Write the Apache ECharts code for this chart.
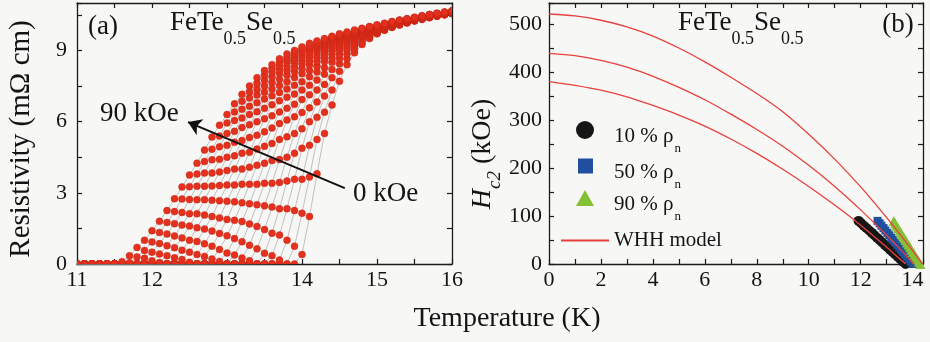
<!DOCTYPE html>
<html>
<head>
<meta charset="utf-8">
<script src="https://cdn.jsdelivr.net/npm/echarts@6.0.0/dist/echarts.min.js"></script>
<style>
  html, body { margin: 0; padding: 0; background: #f7f7f5; }
  #chart { width: 930px; height: 342px; }
</style>
</head>
<body>
<div id="chart"></div>
<script>
// ---- (a) resistivity of FeTe0.5Se0.5 in fields 0 ... 90 kOe ----
const TEMPS_K = [11.0,11.1,11.2,11.3,11.4,11.5,11.6,11.7,11.8,11.9,
                 12.0,12.1,12.2,12.3,12.4,12.5,12.6,12.7,12.8,12.9,
                 13.0,13.1,13.2,13.3,13.4,13.5,13.6,13.7,13.8,13.9,
                 14.0,14.1,14.2,14.3,14.4,14.5,14.6,14.7,14.8,14.9,
                 15.0,15.1,15.2,15.3,15.4,15.5,15.6,15.7,15.8,15.9,16.0];

const FIELDS_KOE = [0, 5, 10, 15, 20, 25, 30, 35, 40, 45, 50, 55, 60, 65, 70, 75, 80, 85, 90];

// resistivity in mOhm cm at each temperature in TEMPS_K
const RHO_0KOE = [0,0,0,0,0,0,0,0,0,0, 0,0,0,0,0,0,0,0,0,0, 0,0,0,0,0,0,0,0,0,0,
  0.4,2.0,3.8,5.5,6.7,7.7,8.4,8.9,9.25,9.5,9.7,9.85,9.97,10.07,10.16,10.24,10.31,10.38,10.44,10.5,10.55];
const RHO_5KOE = [0,0,0,0,0,0,0,0,0,0, 0,0,0,0,0,0,0,0,0,0, 0,0,0,0,0,0,0,0,0,
  0.75,2.14,3.67,5.25,6.4,7.33,8.12,8.65,9.05,9.32,9.54,9.72,9.87,9.98,10.08,10.17,10.25,10.32,10.39,10.45,10.51,10.56];
const RHO_10KOE = [0,0,0,0,0,0,0,0,0,0, 0,0,0,0,0,0,0,0,0,0, 0,0,0,0,0,0,0,
  0.17,1.0,2.25,3.57,5.0,6.18,7.08,7.85,8.44,8.85,9.16,9.42,9.6,9.74,9.88,10.0,10.09,10.18,10.26,10.33,10.4,10.45,10.51,10.56];
const RHO_15KOE = [0,0,0,0,0,0,0,0,0,0, 0,0,0,0,0,0,0,0,0,0, 0,0,0,0,0,0,
  0.35,1.22,2.33,3.57,4.88,6.0,6.83,7.57,8.2,8.65,9.02,9.26,9.5,9.64,9.76,9.9,10.01,10.11,10.19,10.27,10.34,10.4,10.46,10.52,10.57];
const RHO_20KOE = [0,0,0,0,0,0,0,0,0,0, 0,0,0,0,0,0,0,0,0,0, 0,0,0,0,0,
  0.45,1.3,2.33,3.5,4.67,5.7,6.58,7.33,8.0,8.5,8.83,9.11,9.34,9.54,9.67,9.78,9.92,10.03,10.12,10.2,10.28,10.34,10.41,10.47,10.53,10.58];
const RHO_25KOE = [0,0,0,0,0,0,0,0,0,0, 0,0,0,0,0,0,0,0,0,0, 0,0,0,
  0.14,0.64,1.45,2.4,3.44,4.5,5.5,6.38,7.13,7.75,8.27,8.67,9.0,9.22,9.43,9.59,9.71,9.81,9.93,10.04,10.13,10.21,10.28,10.35,10.42,10.48,10.53,10.58];
const RHO_30KOE = [0,0,0,0,0,0,0,0,0,0, 0,0,0,0,0,0,0,0,0,0, 0,0,
  0.25,0.79,1.58,2.45,3.4,4.4,5.36,6.21,6.93,7.53,8.09,8.53,8.84,9.1,9.3,9.5,9.62,9.74,9.83,9.95,10.05,10.14,10.22,10.29,10.36,10.43,10.48,10.54,10.59];
const RHO_35KOE = [0,0,0,0,0,0,0,0,0,0, 0,0,0,0,0,0,0,0,0,0, 0,
  0.38,0.94,1.69,2.5,3.4,4.36,5.25,6.07,6.73,7.33,7.89,8.33,8.68,8.97,9.17,9.37,9.53,9.65,9.77,9.85,9.97,10.07,10.15,10.23,10.3,10.37,10.43,10.49,10.55,10.6];
const RHO_40KOE = [0,0,0,0,0,0,0,0,0,0, 0,0,0,0,0,0,0,0,0,
  0.11,0.46,1.07,1.79,2.54,3.36,4.25,5.08,5.92,6.56,7.16,7.68,8.15,8.53,8.82,9.07,9.26,9.44,9.58,9.69,9.8,9.87,9.98,10.08,10.16,10.24,10.31,10.38,10.44,10.5,10.55,10.6];
const RHO_45KOE = [0,0,0,0,0,0,0,0,0,0, 0,0,0,0,0,0,0,0,
  0.21,0.61,1.19,1.84,2.58,3.36,4.16,4.96,5.73,6.41,7.03,7.53,8.02,8.39,8.69,8.96,9.15,9.32,9.5,9.61,9.72,9.83,9.89,10.0,10.1,10.18,10.25,10.32,10.39,10.45,10.51,10.56,10.61];
const RHO_50KOE = [0,0,0,0,0,0,0,0,0,0, 0,0,0,0,0,0,0,
  0.32,0.75,1.29,1.88,2.62,3.36,4.08,4.85,5.57,6.25,6.88,7.38,7.86,8.23,8.55,8.82,9.05,9.22,9.38,9.53,9.64,9.74,9.85,9.91,10.02,10.11,10.19,10.26,10.33,10.39,10.46,10.51,10.57,10.62];
const RHO_55KOE = [0,0,0,0,0,0,0,0,0,0, 0,0,0,0,0,
  0.07,0.4,0.85,1.39,1.94,2.64,3.33,4.0,4.71,5.43,6.12,6.71,7.23,7.68,8.1,8.43,8.7,8.95,9.13,9.29,9.45,9.57,9.67,9.77,9.88,9.93,10.03,10.12,10.2,10.27,10.34,10.4,10.47,10.52,10.57,10.62];
const RHO_60KOE = [0,0,0,0,0,0,0,0,0,0, 0,0,0,0,
  0.19,0.5,0.95,1.47,2.0,2.67,3.33,4.0,4.67,5.33,6.0,6.56,7.09,7.52,7.96,8.28,8.57,8.81,9.03,9.19,9.34,9.5,9.6,9.7,9.8,9.9,9.95,10.05,10.14,10.21,10.28,10.35,10.41,10.47,10.53,10.58,10.63];
const RHO_65KOE = [0,0,0,0,0,0,0,0,0,0, 0,0,0,
  0.26,0.58,1.0,1.53,2.06,2.69,3.31,3.94,4.56,5.2,5.87,6.42,6.95,7.38,7.79,8.16,8.47,8.7,8.93,9.1,9.25,9.4,9.53,9.63,9.73,9.82,9.92,9.97,10.07,10.15,10.22,10.29,10.36,10.42,10.48,10.53,10.59,10.64];
const RHO_70KOE = [0,0,0,0,0,0,0,0,0,0, 0,
  0.06,0.35,0.69,1.1,1.6,2.12,2.71,3.29,3.88,4.5,5.13,5.75,6.3,6.8,7.24,7.64,8.03,8.32,8.59,8.82,9.03,9.17,9.31,9.46,9.56,9.66,9.75,9.84,9.94,9.99,10.08,10.16,10.23,10.3,10.36,10.43,10.49,10.54,10.59,10.64];
const RHO_75KOE = [0,0,0,0,0,0,0,0,0,0,
  0.14,0.42,0.77,1.18,1.64,2.12,2.71,3.28,3.83,4.41,5.0,5.59,6.15,6.65,7.12,7.5,7.88,8.21,8.5,8.71,8.92,9.08,9.22,9.36,9.5,9.59,9.68,9.77,9.86,9.95,10.02,10.1,10.18,10.25,10.31,10.37,10.44,10.5,10.55,10.6,10.65];
const RHO_80KOE = [0,0,0,0,0,0,0,0,0,
  0.24,0.5,0.86,1.26,1.7,2.17,2.72,3.28,3.83,4.39,4.94,5.5,6.05,6.52,7.0,7.37,7.74,8.08,8.36,8.6,8.81,9.01,9.14,9.28,9.41,9.53,9.62,9.71,9.79,9.88,9.97,10.04,10.12,10.19,10.26,10.32,10.38,10.44,10.5,10.56,10.61,10.66];
const RHO_85KOE = [0,0,0,0,0,0,0,
  0.05,0.3,0.57,0.93,1.33,1.75,2.21,2.74,3.26,3.79,4.32,4.84,5.39,5.94,6.41,6.86,7.25,7.61,7.96,8.24,8.5,8.7,8.9,9.07,9.2,9.33,9.46,9.56,9.65,9.73,9.82,9.9,9.99,10.06,10.13,10.21,10.27,10.33,10.39,10.45,10.51,10.56,10.61,10.66];
const RHO_90KOE = [0,0,0,0,0,0,
  0.1,0.35,0.7,1.0,1.4,1.8,2.25,2.75,3.25,3.75,4.25,4.8,5.35,5.85,6.3,6.75,7.15,7.5,7.85,8.15,8.4,8.65,8.85,9.0,9.15,9.3,9.4,9.5,9.6,9.7,9.78,9.86,9.94,10.01,10.08,10.15,10.22,10.28,10.34,10.4,10.46,10.52,10.57,10.62,10.67];

const RHO_CURVES = [RHO_0KOE, RHO_5KOE, RHO_10KOE, RHO_15KOE, RHO_20KOE, RHO_25KOE, RHO_30KOE,
                    RHO_35KOE, RHO_40KOE, RHO_45KOE, RHO_50KOE, RHO_55KOE, RHO_60KOE, RHO_65KOE,
                    RHO_70KOE, RHO_75KOE, RHO_80KOE, RHO_85KOE, RHO_90KOE];

// field-direction arrow, [T (K), rho] from the 0 kOe side to the 90 kOe side
const ARROW_TAIL = [14.57, 3.20];
const ARROW_HEAD = [12.48, 5.98];

// ---- (b) upper critical field ----
const HC2_FIELDS_KOE = [0, 5, 10, 15, 20, 25, 30, 35, 40, 45, 50, 55, 60, 65, 70, 75, 80, 85, 90];
const T_10PCT = [13.73,13.63,13.53,13.43,13.33,13.23,13.13,13.03,12.93,12.83,12.73,12.63,12.53,12.43,12.33,12.22,12.12,12.02,11.92];
const T_50PCT = [14.00,13.93,13.85,13.78,13.70,13.63,13.55,13.48,13.40,13.33,13.25,13.18,13.10,13.03,12.95,12.88,12.80,12.73,12.65];
const T_90PCT = [14.30,14.24,14.18,14.12,14.07,14.01,13.95,13.90,13.84,13.78,13.73,13.67,13.61,13.55,13.50,13.44,13.38,13.33,13.27];

const WHH_T_10 = [0, 1, 2, 3, 4, 5, 6, 7, 8, 9, 10, 11, 12, 13, 13.5, 13.73];
const WHH_H_10 = [381, 373, 363, 349, 331, 311, 288, 261, 231, 198, 162, 123, 81, 35, 11, 0];
const WHH_T_50 = [0, 1, 2, 3, 4, 5, 6, 7, 8, 9, 10, 11, 12, 13, 13.5, 14.04];
const WHH_H_50 = [440, 435, 425, 411, 392, 369, 343, 313, 281, 246, 206, 162, 113, 60, 32, 0];
const WHH_T_90 = [0, 1, 2, 3, 4, 5, 6, 7, 8, 9, 10, 11, 12, 13, 13.5, 14, 14.38];
const WHH_H_90 = [522, 518, 509, 495, 476, 451, 422, 390, 356, 318, 271, 219, 161, 97, 63, 28, 0];

// ---- styling ----
const FONT = 'Liberation Serif';
const TXT = '#141414';
const AX = '#1c1c1c';
const DOT_RED = '#e4301d';

const pairs = (xs, ys) => xs.map((x, i) => [x, ys[i]]);
const every = step => v => (Math.abs(v / step - Math.round(v / step)) < 1e-6 ? String(Math.round(v * 10) / 10) : '');

function frameAxis(gridIndex, position, min, max, interval, fmt, margin) {
  return {
    type: 'value', gridIndex, position, min, max, interval,
    axisLine: { show: true, onZero: false, lineStyle: { color: AX, width: 1.3 } },
    axisTick: { show: true, inside: true, length: 5, lineStyle: { color: AX, width: 1.2 } },
    axisLabel: fmt
      ? { show: true, formatter: fmt, margin, color: TXT, fontFamily: FONT, fontSize: 22 }
      : { show: false },
    splitLine: { show: false },
    minorTick: { show: false }
  };
}

// measurement point, clipped by the plot frame so zero-resistance points sit on the axis
const dotRenderer = (params, api) => {
  const p = api.coord([api.value(0), api.value(1)]);
  return {
    type: 'circle',
    shape: { cx: p[0], cy: p[1], r: 3.5 },
    style: { fill: DOT_RED, stroke: '#bd2412', lineWidth: 0.4 }
  };
};

const series = [];

// thin grey traces joining the points of each field curve
RHO_CURVES.forEach((rho, k) => {
  series.push({
    type: 'line', name: 'trace ' + FIELDS_KOE[k] + ' kOe',
    xAxisIndex: 0, yAxisIndex: 0,
    data: pairs(TEMPS_K, rho),
    showSymbol: false, symbol: 'none',
    lineStyle: { color: '#9a9a9a', width: 0.6 },
    z: 2, silent: true
  });
});
// red measurement points
RHO_CURVES.forEach((rho, k) => {
  series.push({
    type: 'custom', name: FIELDS_KOE[k] + ' kOe',
    xAxisIndex: 0, yAxisIndex: 0,
    data: pairs(TEMPS_K, rho),
    encode: { x: 0, y: 1 },
    renderItem: dotRenderer,
    clip: true, z: 3, silent: true
  });
});
// arrow showing increasing field
series.push({
  type: 'lines', coordinateSystem: 'cartesian2d',
  xAxisIndex: 0, yAxisIndex: 0,
  symbol: ['none', 'arrow'], symbolSize: [9, 13],
  lineStyle: { color: '#111', width: 2, opacity: 1, curveness: 0 },
  data: [{ coords: [ARROW_TAIL, ARROW_HEAD] }],
  z: 10, silent: true
});

// Hc2 points
series.push({
  type: 'scatter', name: '10 % ρn', xAxisIndex: 2, yAxisIndex: 2,
  data: pairs(T_10PCT, HC2_FIELDS_KOE), symbol: 'circle', symbolSize: 10,
  itemStyle: { color: '#161616', opacity: 1 }, z: 3
});
series.push({
  type: 'scatter', name: '50 % ρn', xAxisIndex: 2, yAxisIndex: 2,
  data: pairs(T_50PCT, HC2_FIELDS_KOE), symbol: 'rect', symbolSize: 8,
  itemStyle: { color: '#1f4f9e', opacity: 1 }, z: 3
});
series.push({
  type: 'scatter', name: '90 % ρn', xAxisIndex: 2, yAxisIndex: 2,
  data: pairs(T_90PCT, HC2_FIELDS_KOE), symbol: 'triangle', symbolSize: 10,
  itemStyle: { color: '#86c035', opacity: 1 }, z: 3
});
// WHH fits
[[WHH_T_10, WHH_H_10], [WHH_T_50, WHH_H_50], [WHH_T_90, WHH_H_90]].forEach(([t, h]) => {
  series.push({
    type: 'line', name: 'WHH model', xAxisIndex: 2, yAxisIndex: 2,
    data: pairs(t, h), smooth: 0.3, showSymbol: false, symbol: 'none',
    lineStyle: { color: '#e8403c', width: 1.3 }, itemStyle: { color: '#e8403c' }, z: 4
  });
});

// one legend block per entry so each symbol keeps its own size
function legendEntry(name, icon, w, h, left, top, padLeft) {
  return {
    data: [{ name, icon }],
    left, top, padding: 0,
    itemWidth: w, itemHeight: h, selectedMode: false,
    formatter: n => n.endsWith('ρn') ? '{t|' + n.slice(0, -1) + '}{s|n}' : '{w|' + n + '}',
    textStyle: {
      fontFamily: FONT, fontSize: 21, color: TXT,
      rich: {
        t: { fontFamily: FONT, fontSize: 21, color: TXT, lineHeight: 22, padding: [7, 0, 0, padLeft], verticalAlign: 'top' },
        s: { fontFamily: FONT, fontSize: 13, color: TXT, lineHeight: 13, padding: [23, 0, 0, 1], verticalAlign: 'top' },
        w: { fontFamily: FONT, fontSize: 21, color: TXT, lineHeight: 22 }
      }
    }
  };
}

const formulaRich = {
  m: { fontFamily: FONT, fontSize: 27, lineHeight: 30, color: TXT, verticalAlign: 'top' },
  s: { fontFamily: FONT, fontSize: 18, lineHeight: 18, color: TXT, verticalAlign: 'top', padding: [21, 0, 0, 0] }
};
const FORMULA = '{m|FeTe}{s|0.5}{m|Se}{s|0.5}';
const plain = (size) => ({ fontFamily: FONT, fontSize: size, fill: TXT });

const option = {
  animation: false,
  backgroundColor: '#f7f7f5',
  textStyle: { fontFamily: FONT },
  grid: [
    { left: 77, top: 3, width: 375, height: 261, outerBoundsMode: 'none', containLabel: false },
    { left: 549, top: 3, width: 374, height: 261, outerBoundsMode: 'none', containLabel: false }
  ],
  xAxis: [
    frameAxis(0, 'bottom', 11, 16, 0.5, every(1), 5),
    frameAxis(0, 'top', 11, 16, 0.5, null),
    frameAxis(1, 'bottom', 0, 14.4, 1, every(2), 5),
    frameAxis(1, 'top', 0, 14.4, 1, null)
  ],
  yAxis: [
    frameAxis(0, 'left', 0, 11, 1.5, every(3), 10),
    frameAxis(0, 'right', 0, 11, 1.5, null),
    frameAxis(1, 'left', 0, 545, 50, every(100), 7),
    frameAxis(1, 'right', 0, 545, 50, null)
  ],
  legend: [
    legendEntry('10 % ρn', 'circle', 18, 18, 576, 119, 15),
    legendEntry('50 % ρn', 'rect', 15, 15, 578, 155, 16),
    legendEntry('90 % ρn', 'triangle', 18, 16, 576, 187, 15),
    legendEntry('WHH model', 'rect', 48, 2, 561, 230, 0)
  ],
  graphic: [
    { type: 'text', x: 103, y: 27, style: Object.assign(plain(27), { text: '(a)', align: 'center', verticalAlign: 'middle' }) },
    { type: 'text', x: 898, y: 25, style: Object.assign(plain(27), { text: '(b)', align: 'center', verticalAlign: 'middle' }) },
    { type: 'text', x: 170, y: 9, style: { text: FORMULA, rich: formulaRich, fill: TXT, align: 'left', verticalAlign: 'top' } },
    { type: 'text', x: 678, y: 9, style: { text: FORMULA, rich: formulaRich, fill: TXT, align: 'left', verticalAlign: 'top' } },
    { type: 'text', x: 100, y: 114, style: Object.assign(plain(27), { text: '90 kOe', align: 'left', verticalAlign: 'middle' }) },
    { type: 'text', x: 353, y: 194, style: Object.assign(plain(27), { text: '0 kOe', align: 'left', verticalAlign: 'middle' }) },
    { type: 'text', x: 507, y: 319, style: Object.assign(plain(28), { text: 'Temperature (K)', align: 'center', verticalAlign: 'middle' }) },
    { type: 'text', x: 21, y: 139, rotation: Math.PI / 2,
      style: Object.assign(plain(29), { text: 'Resistivity (mΩ cm)', align: 'center', verticalAlign: 'middle' }) },
    { type: 'text', x: 484, y: 154, rotation: Math.PI / 2,
      style: {
        text: '{i|H}{c|c2}{n| (kOe)}', fill: TXT, align: 'center', verticalAlign: 'middle',
        rich: {
          i: { fontFamily: FONT, fontSize: 28, fontStyle: 'italic', lineHeight: 30, verticalAlign: 'top', color: TXT },
          c: { fontFamily: FONT, fontSize: 19, fontStyle: 'italic', lineHeight: 19, verticalAlign: 'top', padding: [16, 0, 0, 0], color: TXT },
          n: { fontFamily: FONT, fontSize: 28, lineHeight: 30, verticalAlign: 'top', color: TXT }
        }
      } }
  ],
  series
};

const chart = echarts.init(document.getElementById('chart'), null, { renderer: 'canvas' });
chart.setOption(option);
</script>
</body>
</html>
